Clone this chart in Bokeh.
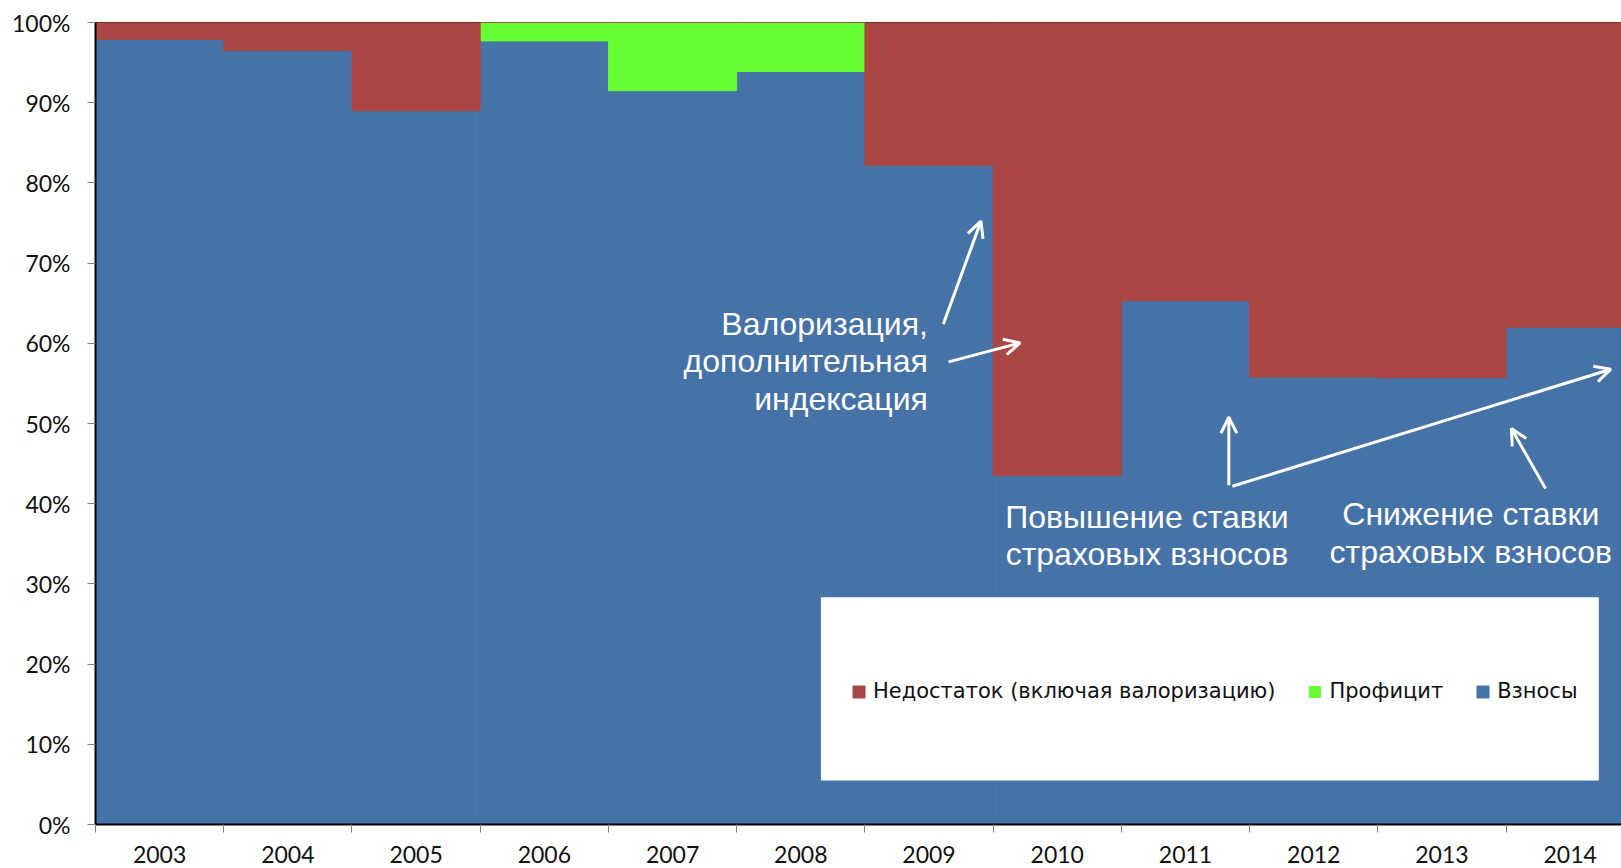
from bokeh.plotting import figure
from bokeh.models import (Range1d, FixedTicker, Legend, LegendItem, Label, Arrow,
                          OpenHead, BoxAnnotation, ColumnDataSource)
from bokeh.embed import file_html
from bokeh.resources import INLINE

years = ["2003", "2004", "2005", "2006", "2007", "2008",
         "2009", "2010", "2011", "2012", "2013", "2014"]
contributions = [97.9, 96.5, 89.0, 97.7, 91.5, 93.9, 82.2, 43.5, 65.3, 55.8, 55.7, 62.0]
surplus = [0.0, 0.0, 0.0, 2.3, 8.5, 6.1, 0.0, 0.0, 0.0, 0.0, 0.0, 0.0]
deficit = [2.1, 3.5, 11.0, 0.0, 0.0, 0.0, 17.8, 56.5, 34.7, 44.2, 44.3, 38.0]

y_ticks = [0, 10, 20, 30, 40, 50, 60, 70, 80, 90, 100]

BLUE = "#4572A7"
GREEN = "#66FF33"
RED = "#AA4643"

xs = list(range(len(years)))
src = ColumnDataSource(dict(
    x=xs, contributions=contributions, surplus=surplus, deficit=deficit,
    surplus_la=[1.0 if v > 0 else 0.0 for v in surplus],
))

p = figure(width=1621, height=868, output_backend="svg", toolbar_location=None,
           x_range=Range1d(-0.5, 11.40), y_range=Range1d(0, 100),
           min_border_left=95, min_border_right=0, min_border_top=22, min_border_bottom=44)
p.background_fill_color = "white"
p.border_fill_color = "white"
p.outline_line_color = "black"
p.outline_line_width = 1
p.xgrid.visible = False
p.ygrid.visible = False

rs = p.vbar_stack(["contributions", "surplus", "deficit"], x="x", width=1.0, source=src,
                  fill_color=[BLUE, GREEN, RED], line_color=[BLUE, GREEN, RED],
                  line_alpha=[1.0, "surplus_la", 1.0], line_width=1)

# axes
FONT = "Lato"
p.xaxis.ticker = FixedTicker(ticks=xs, minor_ticks=[i - 0.5 for i in range(len(years) + 1)])
p.xaxis.major_label_overrides = {i: y for i, y in enumerate(years)}
p.xaxis.major_tick_out = 0
p.xaxis.major_tick_in = 0
p.xaxis.minor_tick_out = 8
p.xaxis.minor_tick_in = 0
p.xaxis.minor_tick_line_color = "#808080"
p.xaxis.axis_line_color = "black"
p.xaxis.axis_line_width = 2
p.xaxis.major_label_text_font = FONT
p.xaxis.major_label_text_font_size = "23px"
p.xaxis.major_label_text_color = "#111111"
p.xaxis.major_label_standoff = 13

p.yaxis.ticker = FixedTicker(ticks=y_ticks, minor_ticks=[])
p.yaxis.major_label_overrides = {v: f"{v}%" for v in y_ticks}
p.yaxis.major_tick_out = 8
p.yaxis.major_tick_in = 0
p.yaxis.major_tick_line_color = "#808080"
p.yaxis.axis_line_color = "black"
p.yaxis.axis_line_width = 2
p.yaxis.major_label_text_font = FONT
p.yaxis.major_label_text_font_size = "23px"
p.yaxis.major_label_text_color = "#111111"
p.yaxis.major_label_standoff = 17

# legend box
box = BoxAnnotation(left=5.157, right=11.223, bottom=5.49, top=28.32,
                    fill_color="white", fill_alpha=1.0, line_color=None)
p.add_layout(box)

legend = Legend(items=[
    LegendItem(label="Недостаток (включая валоризацию)", renderers=[rs[2]]),
    LegendItem(label="Профицит", renderers=[rs[1]]),
    LegendItem(label="Взносы", renderers=[rs[0]]),
], orientation="horizontal", location=(756, 121))
legend.glyph_width = 15
legend.glyph_height = 15
legend.label_standoff = 7
legend.spacing = 32
legend.padding = 0
legend.margin = 0
legend.label_text_font = "DejaVu Sans"
legend.label_text_font_size = "21px"
legend.label_text_color = "#111111"
legend.background_fill_alpha = 0
legend.border_line_alpha = 0
p.add_layout(legend, "center")

# annotation texts
AFONT = "Liberation Sans"
ASIZE = "32px"
texts = [
    ("Валоризация,", 5.991, 61.01, "right"),
    ("дополнительная", 5.991, 56.39, "right"),
    ("индексация", 5.991, 51.65, "right"),
    ("Повышение ставки", 7.699, 36.93, "center"),
    ("страховых взносов", 7.699, 32.31, "center"),
    ("Снижение ставки", 10.225, 37.30, "center"),
    ("страховых взносов", 10.225, 32.60, "center"),
]
for t, x, y, al in texts:
    p.add_layout(Label(x=x, y=y, y_offset=11, text=t, text_align=al, text_baseline="alphabetic",
                       text_font=AFONT, text_font_size=ASIZE, text_color="white"))

arrows = [
    (6.111, 62.38, 6.405, 75.23),
    (6.153, 57.68, 6.711, 60.05),
    (8.338, 42.30, 8.338, 50.78),
    (8.366, 42.17, 11.317, 56.77),
    (10.808, 41.88, 10.541, 49.37),
]
for x0, y0, x1, y1 in arrows:
    p.add_layout(Arrow(x_start=x0, y_start=y0, x_end=x1, y_end=y1,
                       line_color="white", line_width=3,
                       end=OpenHead(size=16, line_color="white", line_width=3)))

open("out.html", "w").write(file_html(p, INLINE))
